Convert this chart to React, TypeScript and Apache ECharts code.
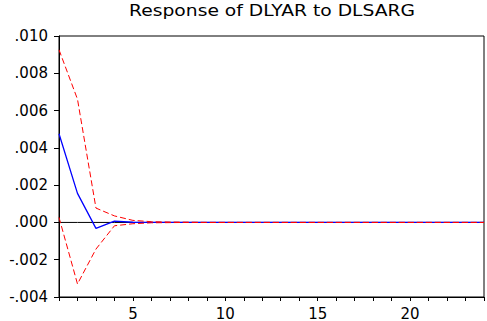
import React, { useEffect, useRef } from "react";
import * as echarts from "echarts";

const periods = [1, 2, 3, 4, 5, 6, 7, 8, 9, 10, 11, 12, 13, 14, 15, 16, 17, 18, 19, 20, 21, 22, 23, 24];
const response = [0.00476, 0.00156, -0.00032, 0.00007, 0.00001, 0.0, 0.0, 0.0, 0.0, 0.0, 0.0, 0.0, 0.0, 0.0, 0.0, 0.0, 0.0, 0.0, 0.0, 0.0, 0.0, 0.0, 0.0, 0.0];
const upperBand = [0.00926, 0.00661, 0.00077, 0.00035, 0.00011, 0.00004, 0.00002, 0.00001, 0.0, 0.0, 0.0, 0.0, 0.0, 0.0, 0.0, 0.0, 0.0, 0.0, 0.0, 0.0, 0.0, 0.0, 0.0, 0.0];
const lowerBand = [0.00027, -0.0033, -0.00143, -0.00018, -0.00007, -0.00002, -0.00001, 0.0, 0.0, 0.0, 0.0, 0.0, 0.0, 0.0, 0.0, 0.0, 0.0, 0.0, 0.0, 0.0, 0.0, 0.0, 0.0, 0.0];
const titleText = "Response of DLYAR to DLSARG";

const pairs = (vals: number[]) => periods.map((p, i) => [p, vals[i]]);

export default function App() {
  const ref = useRef<HTMLDivElement>(null);
  useEffect(() => {
    document.body.style.margin = "0";
    const chart = echarts.init(ref.current!, null, { renderer: "svg" });
    const font = "DejaVu Sans";
    chart.setOption({
      animation: false,
      backgroundColor: "#ffffff",
      graphic: [
        {
          type: "text",
          x: 272,
          y: 10,
          scaleX: 1.17,
          style: {
            text: titleText,
            fontFamily: font,
            fontSize: 16,
            fill: "#000",
            align: "center",
            verticalAlign: "middle",
          },
        },
      ],
      grid: {
        left: 59,
        right: 3,
        top: 36,
        bottom: 24,
        show: true,
        borderColor: "#000",
        borderWidth: 1,
        backgroundColor: "transparent",
      },
      xAxis: {
        type: "value",
        min: 1,
        max: 24,
        interval: 1,
        axisLine: { show: true, onZero: false, lineStyle: { color: "#000", width: 1 } },
        axisTick: { show: true, length: 4, lineStyle: { color: "#000" } },
        splitLine: { show: false },
        axisLabel: {
          color: "#000",
          fontFamily: font,
          fontSize: 15,
          margin: 9,
          formatter: (v: number) => (v % 5 === 0 ? String(v) : ""),
        },
      },
      yAxis: {
        type: "value",
        min: -0.004,
        max: 0.01,
        interval: 0.002,
        axisLine: { show: true, lineStyle: { color: "#000", width: 1 } },
        axisTick: { show: true, length: 5, lineStyle: { color: "#000" } },
        splitLine: { show: false },
        axisLabel: {
          color: "#000",
          fontFamily: font,
          fontSize: 15,
          margin: 11,
          formatter: (v: number) => {
            const s = (Math.round(v * 1000) / 1000).toFixed(3);
            return s.replace(/^(-?)0\./, "$1.");
          },
        },
      },
      series: [
        {
          type: "line",
          data: periods.map((p) => [p, 0]),
          symbol: "none",
          lineStyle: { color: "#000", width: 1 },
          z: 1,
          silent: true,
        },
        {
          type: "line",
          data: pairs(response),
          symbol: "none",
          lineStyle: { color: "#0000ff", width: 1.3 },
          z: 2,
        },
        {
          type: "line",
          data: pairs(upperBand),
          symbol: "none",
          lineStyle: { color: "#ff0000", width: 1, type: [6, 3] },
          z: 3,
        },
        {
          type: "line",
          data: pairs(lowerBand),
          symbol: "none",
          lineStyle: { color: "#ff0000", width: 1, type: [6, 3] },
          z: 3,
        },
      ],
    });
    return () => chart.dispose();
  }, []);
  return <div ref={ref} style={{ width: 487, height: 321, position: "absolute", left: 0, top: 0 }} />;
}
